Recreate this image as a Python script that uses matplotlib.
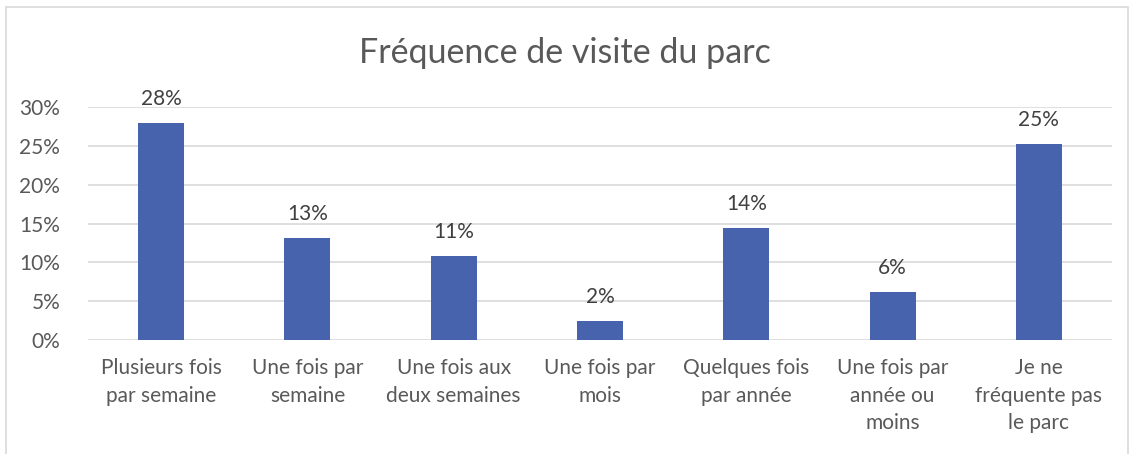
import matplotlib
matplotlib.use("Agg")
import matplotlib.pyplot as plt
from matplotlib.patches import Rectangle
from matplotlib.ticker import PercentFormatter

# data
categories = ["Plusieurs fois\npar semaine", "Une fois par\nsemaine", "Une fois aux\ndeux semaines",
              "Une fois par\nmois", "Quelques fois\npar année", "Une fois par\nannée ou\nmoins",
              "Je ne\nfréquente pas\nle parc"]
values = [0.279, 0.131, 0.108, 0.024, 0.144, 0.062, 0.252]
yticks = [0, 0.05, 0.10, 0.15, 0.20, 0.25, 0.30]

plt.rcParams['font.family'] = ['Lato', 'DejaVu Sans']
bar_color = '#4763AE'
text_color = '#595959'
grid_color = '#D9D9D9'

fig = plt.figure(figsize=(11.3, 4.54), dpi=100)
ax = fig.add_axes([88 / 1130, 1 - 340 / 454, (1112 - 88) / 1130, (340 - 107) / 454])

x = range(len(categories))
bars = ax.bar(x, values, width=0.315, color=bar_color, zorder=3)
for b, v in zip(bars, values):
    ax.annotate(f"{round(v * 100):.0f}%", (b.get_x() + b.get_width() / 2, v),
                xytext=(0, 10), textcoords='offset points', ha='center', va='bottom',
                fontsize=15, color='#404040')

ax.set_ylim(0, 0.30)
ax.set_xlim(-0.5, len(categories) - 0.5)
ax.set_yticks(yticks)
ax.yaxis.set_major_formatter(PercentFormatter(1.0, decimals=0))
ax.set_xticks(list(x))
ax.set_xticklabels(categories, linespacing=1.48)
ax.tick_params(axis='both', length=0, labelsize=15, labelcolor=text_color)
ax.tick_params(axis='x', pad=13)
ax.tick_params(axis='y', pad=20)
ax.grid(axis='y', color=grid_color, linewidth=1.2, zorder=0)
for s in ax.spines.values():
    s.set_visible(False)

fig.text(0.5, 1 - 53 / 454, "Fréquence de visite du parc", ha='center', va='center',
         fontsize=24.5, color=text_color)

# chart frame
fig.patches.append(Rectangle((6 / 1130, -0.05), (1128 - 6) / 1130, 1 - 7 / 454 + 0.05,
                             transform=fig.transFigure, fill=False,
                             edgecolor='#D9D9D9', linewidth=1.2))

fig.savefig("out.png", dpi=100)
